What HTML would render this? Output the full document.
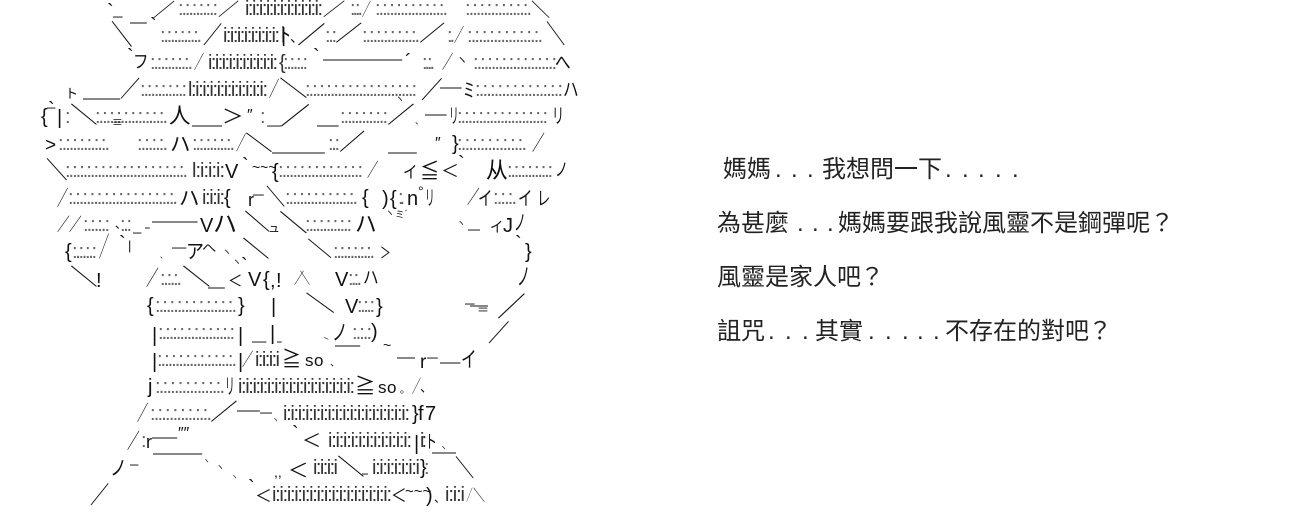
<!DOCTYPE html>
<html><head><meta charset="utf-8">
<style>
html,body{margin:0;padding:0;background:#fff;width:1300px;height:530px;overflow:hidden}
svg{display:block}
text{white-space:pre;fill:#111}
.d,.i{font:20px "Liberation Sans",sans-serif}
text.d{fill:#666}
text.i{fill:#333}
.c{font:24px "Noto Sans CJK JP",sans-serif}
.l{font:20px "Liberation Sans",sans-serif}
.t{font:24px "Noto Sans CJK TC",sans-serif}
text.t{fill:#222}
</style></head><body>
<svg width="1300" height="530" viewBox="0 0 1300 530" xmlns="http://www.w3.org/2000/svg">
<!-- dots -->
<g transform="translate(0 15)">
<text class="d" x="178" textLength="40">:.:.:.:.:.:</text>
<text class="i" x="245" textLength="78">i:i:i:i:i:i:i:i:i:i:i:</text>
<text class="d" x="350" textLength="13">:.:.</text>
<text class="d" x="375" textLength="73">:.:.:.:.:.:.:.:.:.:.</text>
<text class="d" x="465" textLength="67">:.:.:.:.:.:.:.:.:.</text>
</g>
<g transform="translate(0 42)">
<text class="d" x="160" textLength="42">:.:.:.:.:.:.</text>
<text class="i" x="223" textLength="57">i:i:i:i:i:i:i:i:</text>
<text class="d" x="325" textLength="12">:.:</text>
<text class="d" x="362" textLength="58">:.:.:.:.:.:.:.:.</text>
<text class="d" x="447" textLength="8">:.</text>
<text class="d" x="467" textLength="76">:.:.:.:.:.:.:.:.:.:.</text>
</g>
<g transform="translate(0 69)">
<text class="d" x="150" textLength="43">:.:.:.:.:.:.</text>
<text class="i" x="208" textLength="70">i:i:i:i:i:i:i:i:i:i:</text>
<text class="d" x="283" textLength="25">:.:.:.:</text>
<text class="d" x="422" textLength="13">:.:.</text>
<text class="d" x="473" textLength="84">:.:.:.:.:.:.:.:.:.:.:.:</text>
</g>
<g transform="translate(0 96)">
<text class="d" x="140" textLength="47">:.:.:.:.:.:.:</text>
<text class="i" x="188" textLength="80">l:i:i:i:i:i:i:i:i:i:i:</text>
<text class="d" x="305" textLength="112">:.:.:.:.:.:.:.:.:.:.:.:.:.:.:.:</text>
<text class="d" x="475" textLength="88">:.:.:.:.:.:.:.:.:.:.:.:</text>
</g>
<g transform="translate(0 123)">
<text class="d" x="65" textLength="5">:</text>
<text class="d" x="95" textLength="73">:.:.:.:.:.:.:.:.:.:.</text>
<text class="d" x="260" textLength="3">:</text>
<text class="d" x="340" textLength="48">:.:.:.:.:.:.:</text>
<text class="d" x="457" textLength="91">:.:.:.:.:.:.:.:.:.:.:.:.:</text>
</g>
<g transform="translate(0 150)">
<text class="d" x="58" textLength="52">:.:.:.:.:.:.:.</text>
<text class="d" x="137" textLength="31">:.:.:.:.</text>
<text class="d" x="192" textLength="43">:.:.:.:.:.:.</text>
<text class="d" x="328" textLength="12">:.:</text>
<text class="d" x="457" textLength="70">:.:.:.:.:.:.:.:.:.</text>
</g>
<g transform="translate(0 177)">
<text class="d" x="65" textLength="123">:.:.:.:.:.:.:.:.:.:.:.:.:.:.:.:.:.</text>
<text class="i" x="192" textLength="33">l:i:i:i:</text>
<text class="d" x="278" textLength="85">:.:.:.:.:.:.:.:.:.:.:.:</text>
<text class="d" x="507" textLength="46">:.:.:.:.:.:.:</text>
</g>
<g transform="translate(0 204)">
<text class="d" x="68" textLength="110">:.:.:.:.:.:.:.:.:.:.:.:.:.:.:.</text>
<text class="i" x="202" textLength="23">i:i:i:</text>
<text class="d" x="285" textLength="73">:.:.:.:.:.:.:.:.:.:.</text>
<text class="d" x="398" textLength="7">:.</text>
<text class="d" x="493" textLength="24">:.:.:.</text>
</g>
<g transform="translate(0 231)">
<text class="d" x="83" textLength="27">:.:.:.:</text>
<text class="d" x="120" textLength="12">:.:</text>
<text class="d" x="305" textLength="47">:.:.:.:.:.:.:</text>
</g>
<g transform="translate(0 258)">
<text class="d" x="72" textLength="25">:.:.:.:</text>
<text class="d" x="333" textLength="42">:.:.:.:.:.:.</text>
</g>
<g transform="translate(0 285)">
<text class="d" x="160" textLength="22">:.:.:.</text>
<text class="d" x="348" textLength="14">:.:.</text>
</g>
<g transform="translate(0 312)">
<text class="d" x="155" textLength="82">:.:.:.:.:.:.:.:.:.:.:.</text>
<text class="d" x="357" textLength="18">:.:.:</text>
</g>
<g transform="translate(0 339)">
<text class="d" x="158" textLength="77">:.:.:.:.:.:.:.:.:.:.:</text>
<text class="d" x="352" textLength="20">:.:.:</text>
</g>
<g transform="translate(0 366)">
<text class="d" x="157" textLength="80">:.:.:.:.:.:.:.:.:.:.:.</text>
<text class="i" x="255" textLength="25">i:i:i:i</text>
<text class="l" x="305" style="font-size:17px">s</text>
<text class="l" x="314" style="font-size:17px">o</text>
</g>
<g transform="translate(0 393)">
<text class="d" x="155" textLength="70">:.:.:.:.:.:.:.:.:.</text>
<text class="i" x="238" textLength="117">i:i:i:i:i:i:i:i:i:i:i:i:i:i:i:i:</text>
<text class="l" x="378" style="font-size:17px">s</text>
<text class="l" x="387" style="font-size:17px">o</text>
</g>
<g transform="translate(0 420)">
<text class="d" x="150" textLength="62">:.:.:.:.:.:.:.:.</text>
<text class="i" x="283" textLength="127">i:i:i:i:i:i:i:i:i:i:i:i:i:i:i:i:i:</text>
<text class="l" x="418">f</text><text class="l" x="425">7</text>
</g>
<g transform="translate(0 447)">
<text class="d" x="141" textLength="4">:</text>
<text class="i" x="328" textLength="84">i:i:i:i:i:i:i:i:i:i:i:</text>
<text class="i" x="420" textLength="7">i:</text>
</g>
<g transform="translate(0 474)">
<text class="i" x="313" textLength="25">i:i:i:i</text>
<text class="i" x="372" textLength="48">i:i:i:i:i:i:i</text>
<text class="d" x="424" textLength="4">:</text>
</g>
<g transform="translate(0 501)">
<text class="i" x="272" textLength="120">i:i:i:i:i:i:i:i:i:i:i:i:i:i:i:i:</text>
<text class="i" x="445" textLength="20">i:i:i</text>
</g>
<!-- forward strokes -->
<g class="c">
<text class="c" transform="translate(152.6 16.4) scale(.95 .78)">／</text>
<text class="c" transform="translate(217.8 15.5) scale(.9 .74)">／</text>
<text class="c" transform="translate(322.6 15.5) scale(.95 .74)">／</text>
<text class="c" transform="translate(362 15.5) scale(.37 .74)">／</text>
<text class="c" transform="translate(203 43) scale(.8 1)">／</text>
<text class="c" transform="translate(297 43) scale(1.2 1)">／</text>
<text class="c" transform="translate(335 41) scale(1.15 .9)">／</text>
<text class="c" transform="translate(419 41) scale(1.1 .9)">／</text>
<text class="c" transform="translate(454 41.4) scale(.42 .78)">／</text>
<text class="c" transform="translate(194 68.4) scale(.42 .78)">／</text>
<text class="c" transform="translate(442 68.4) scale(.47 .78)">／</text>
<text class="c" transform="translate(120 97) scale(.84 .95)">／</text>
<text class="c" transform="translate(269 96) scale(.42 .87)">／</text>
<text class="c" transform="translate(421 98) scale(.9 1)">／</text>
<text class="c" transform="translate(280 124) scale(1.26 1)">／</text>
<text class="c" transform="translate(387 123) scale(1.16 .95)">／</text>
<text class="c" transform="translate(236 150) scale(.42 .83)">／</text>
<text class="c" transform="translate(339 150) scale(1.1 .95)">／</text>
<text class="c" transform="translate(532 150) scale(.53 .87)">／</text>
<text class="c" transform="translate(367 176.5) scale(.47 .78)">／</text>
<text class="c" transform="translate(57 205) scale(.47 .87)">／</text>
<text class="c" transform="translate(467 203.5) scale(.53 .78)">／</text>
<text class="c" transform="translate(57 230.5) scale(.53 .74)">／</text>
<text class="c" transform="translate(69 230.5) scale(.53 .74)">／</text>
<text class="c" transform="translate(99 256) scale(.42 1.13)">／</text>
<text class="c" transform="translate(146 285) scale(.53 .87)">／</text>
<text class="c" transform="translate(497 316) scale(1.2 1.13)">／</text>
<text class="c" transform="translate(488 341) scale(.9 1)">／</text>
<text class="c" transform="translate(137 420) scale(.47 .87)">／</text>
<text class="c" transform="translate(210 420) scale(1.16 .95)">／</text>
<text class="c" transform="translate(127 448) scale(.53 .87)">／</text>
<text class="c" transform="translate(90 503) scale(.8 1)">／</text>
<text class="c" transform="translate(412 392.5) scale(.37 .74)">／</text>
<text class="c" transform="translate(242 365.5) scale(.47 .74)">／</text>
<text class="c" transform="translate(466.3 500.7) scale(.26 .65)">／</text>
<text class="c" transform="translate(294 283.7) scale(.42 .65)">／</text>
<!-- back strokes -->
<text class="c" transform="translate(531 16.4) scale(.8 .78)">＼</text>
<text class="c" transform="translate(111 44.7) scale(.9 1.17)">＼</text>
<text class="c" transform="translate(546 43) scale(.8 1.09)">＼</text>
<text class="c" transform="translate(279 96) scale(1.2 .91)">＼</text>
<text class="c" transform="translate(70 123) scale(1.16 .95)">＼</text>
<text class="c" transform="translate(245 150) scale(1.16 .87)">＼</text>
<text class="c" transform="translate(46 178) scale(.9 1)">＼</text>
<text class="c" transform="translate(266 205) scale(.8 .95)">＼</text>
<text class="c" transform="translate(244 230) scale(1.1 .95)">＼</text>
<text class="c" transform="translate(279 231) scale(1.2 1)">＼</text>
<text class="c" transform="translate(242 257) scale(1.16 .95)">＼</text>
<text class="c" transform="translate(307 256) scale(1.05 .87)">＼</text>
<text class="c" transform="translate(70 285) scale(1.16 .95)">＼</text>
<text class="c" transform="translate(182 285) scale(1.2 .95)">＼</text>
<text class="c" transform="translate(305 311) scale(1.26 .91)">＼</text>
<text class="c" transform="translate(337 475) scale(1.16 .95)">＼</text>
<text class="c" transform="translate(455 476) scale(.8 1)">＼</text>
<text class="c" transform="translate(300 283.7) scale(.42 .65)">＼</text>
<text class="c" transform="translate(473 500.7) scale(.5 .65)">＼</text>
</g>
<!-- horizontal bars -->
<g transform="translate(0 1)">
<text class="c" transform="translate(113 25) scale(.4 1)">─</text>
<text class="c" transform="translate(130 31) scale(.7 1)">─</text>
<text class="c" transform="translate(323 68) scale(3.3 1)">─</text>
<text class="c" transform="translate(83 107) scale(1.55 1)">─</text>
<text class="c" transform="translate(192 134) scale(1.25 1)">─</text>
<text class="c" transform="translate(267 134) scale(.6 1)">─</text>
<text class="c" transform="translate(317 134) scale(.9 1)">─</text>
<text class="c" transform="translate(440 96) scale(.9 1)">─</text>
<text class="c" transform="translate(425 123) scale(.9 1)">─</text>
<text class="c" transform="translate(272 161) scale(2.2 1)">─</text>
<text class="c" transform="translate(388 161) scale(1.2 1)">─</text>
<text class="c" transform="translate(253 203) scale(.45 1)">─</text>
<text class="c" transform="translate(152 230) scale(1.9 1)">─</text>
<text class="c" transform="translate(133 241) scale(.35 1)">─</text>
<text class="c" transform="translate(145 236) scale(.2 1)">─</text>
<text class="c" transform="translate(172 256) scale(.6 1)">─</text>
<text class="c" transform="translate(208 296) scale(.7 1)">─</text>
<text class="c" transform="translate(465 312) scale(.4 1)">─</text>
<text class="c" transform="translate(252 350) scale(.6 1)">─</text>
<text class="c" transform="translate(277 350) scale(.2 1)">─</text>
<text class="c" transform="translate(335 354) scale(1.05 1)">─</text>
<text class="c" transform="translate(397 366) scale(.75 1)">─</text>
<text class="c" transform="translate(427 366) scale(.45 1)">─</text>
<text class="c" transform="translate(440 371) scale(.85 1)">─</text>
<text class="c" transform="translate(237 419) scale(.95 1)">─</text>
<text class="c" transform="translate(260 421) scale(.5 1)">─</text>
<text class="c" transform="translate(152 446) scale(1.05 1)">─</text>
<text class="c" transform="translate(153 462) scale(2.05 1)">─</text>
<text class="c" transform="translate(130 473) scale(.35 1)">─</text>
<text class="c" transform="translate(432 461) scale(1 1)">─</text>
<text class="c" transform="translate(468 238) scale(.5 1)">─</text>
<text class="c" transform="translate(470 314) scale(.75 1)">─</text>
<text class="c" transform="translate(362 482) scale(.25 1)">─</text>
</g>
<!-- misc glyphs -->
<text class="l" x="107" y="18">`</text>
<text class="l" x="150" y="32">`</text>
<text class="c" transform="translate(133 68) scale(.65 .75)">フ</text>
<text class="i" x="279" y="69">{</text>
<text class="l" x="281" y="42">|</text>
<text class="c" transform="translate(278 42) scale(.55 .85)">ト</text>
<text class="l" x="290" y="42" style="font-size:14px">、</text>
<text class="l" x="127" y="63">`</text>
<text class="l" x="313" y="63">`</text>
<text class="l" x="405" y="68">´</text>
<text class="c" transform="translate(456 64) scale(.5 .5)">ヽ</text>
<text class="c" transform="translate(555 69) scale(.65 .8)">へ</text>
<text class="c" transform="translate(65 98) scale(.55 .55)">ト</text>
<text class="c" transform="translate(395 102) scale(.4 .4)">ヽ</text>
<text class="c" transform="translate(463 97) scale(.5 .8)">ミ</text>
<text class="c" transform="translate(563 96) scale(.65 .8)">ハ</text>
<text class="l" x="41" y="123">{</text>
<text class="l" x="48" y="116">`</text>
<text class="c" transform="translate(47 117) scale(.35 1)">─</text>
<text class="l" x="57" y="124">|</text>
<text class="c" transform="translate(112 126) scale(.45 .45)">≡</text>
<text class="c" transform="translate(169 123) scale(.9 .9)">人</text>
<text class="c" transform="translate(222 123) scale(.9 .8)">＞</text>
<text class="l" x="247" y="120" style="font-size:16px">″</text>
<text class="c" transform="translate(415 124) scale(.35 .35)">、</text>
<text class="c" transform="translate(449 123) scale(.4 .85)">リ</text>
<text class="c" transform="translate(552 123) scale(.5 .85)">リ</text>
<text class="l" x="45" y="151" style="font-size:19px">&gt;</text>
<text class="c" transform="translate(170 151) scale(.85 .85)">ハ</text>
<text class="l" x="435" y="148" style="font-size:16px">″</text>
<text class="l" x="452" y="150">}</text>
<text class="l" x="225" y="178" style="font-size:20px">V</text>
<text class="l" x="242" y="172">`</text>
<text class="l" x="252" y="172" style="font-size:14px">~~~</text>
<text class="l" x="272" y="178">{</text>
<text class="c" transform="translate(403 178) scale(.6 .7)">イ</text>
<text class="c" transform="translate(420 178) scale(.8 .85)">≦</text>
<text class="c" transform="translate(441 177) scale(.75 .7)">＜</text>
<text class="l" x="458" y="170">`</text>
<text class="c" transform="translate(486 178) scale(.9 .95)">从</text>
<text class="c" transform="translate(555 176) scale(.55 .75)">ノ</text>
<text class="c" transform="translate(179 205) scale(.85 .85)">ハ</text>
<text class="l" x="224" y="204">{</text>
<text class="l" x="248" y="206" style="font-size:18px">r</text>
<text class="l" x="362" y="204">{</text>
<text class="l" x="382" y="205">)</text>
<text class="l" x="390" y="205">{</text>
<text class="l" x="407" y="205">n</text>
<text class="l" x="418" y="196" style="font-size:14px">°</text>
<text class="c" transform="translate(425 205) scale(.4 .85)">リ</text>
<text class="c" transform="translate(478 205) scale(.6 .8)">イ</text>
<text class="c" transform="translate(518 205) scale(.6 .8)">イ</text>
<text class="c" transform="translate(537 205) scale(.55 .8)">レ</text>
<text class="l" x="200" y="232" style="font-size:20px">V</text>
<text class="c" transform="translate(213 232) scale(1 1)">ハ</text>
<text class="l" x="115" y="228" style="font-size:12px">、</text>
<text class="c" transform="translate(268 232) scale(.5 .5)">ュ</text>
<text class="c" transform="translate(355 232) scale(.9 .95)">ハ</text>
<text class="c" transform="translate(385 216) scale(.4 .4)">ヽ</text>
<text class="c" transform="translate(395 218) scale(.4 .4)">ミ</text>
<text class="c" transform="translate(405 216) scale(.3 .3)">ﾞ</text>
<text class="c" transform="translate(457 226) scale(.35 .35)">ヽ</text>
<text class="c" transform="translate(490 232) scale(.55 .6)">イ</text>
<text class="l" x="503" y="232">J</text>
<text class="c" transform="translate(514 230) scale(.5 .9)">ノ</text>
<text class="l" x="65" y="258">{</text>
<text class="l" x="119" y="250">`</text>
<text class="l" x="128" y="250" style="font-size:13px">|</text>
<text class="c" transform="translate(160 258) scale(.3 .3)">、</text>
<text class="c" transform="translate(186 258) scale(.75 .8)">ア</text>
<text class="c" transform="translate(202 252) scale(.6 .5)">へ</text>
<text class="c" transform="translate(222 255) scale(.4 .4)">ヽ</text>
<text class="c" transform="translate(232 265) scale(.4 .4)">ヽ</text>
<text class="c" transform="translate(380 258) scale(.45 .65)">＞</text>
<text class="l" x="515" y="250">`</text>
<text class="l" x="525" y="258">}</text>
<text class="l" x="96" y="287">!</text>
<text class="c" transform="translate(228 286) scale(.6 .65)">＜</text>
<text class="l" x="241" y="272">`</text>
<text class="l" x="248" y="286" style="font-size:20px">V</text>
<text class="l" x="263" y="286">{</text>
<text class="l" x="270" y="287">,</text>
<text class="l" x="276" y="287">!</text>
<text class="l" x="335" y="286" style="font-size:20px">V</text>
<text class="c" transform="translate(363 284) scale(.65 .75)">ハ</text>
<text class="c" transform="translate(517 285) scale(.55 1)">ノ</text>
<text class="l" x="147" y="312">{</text>
<text class="l" x="238" y="312">}</text>
<text class="l" x="271" y="313">|</text>
<text class="l" x="345" y="313" style="font-size:20px">V</text>
<text class="l" x="376" y="313">}</text>
<text class="c" transform="translate(477 314) scale(.5 .5)">＝</text>
<text class="l" x="152" y="342">|</text>
<text class="l" x="238" y="342">|</text>
<text class="l" x="270" y="340">|</text>
<text class="c" transform="translate(320 340) scale(.5 .2)">ヽ</text>
<text class="c" transform="translate(332 340) scale(.65 .9)">ノ</text>
<text class="l" x="371" y="338">)</text>
<text class="l" x="152" y="368">|</text>
<text class="l" x="238" y="368">|</text>
<text class="c" transform="translate(282 366) scale(.8 .85)">≧</text>
<text class="l" x="330" y="366" style="font-size:10px">、</text>
<text class="l" x="383" y="350" style="font-size:14px">~</text>
<text class="l" x="420" y="368" style="font-size:19px">r</text>
<text class="c" transform="translate(461 367) scale(.65 .9)">イ</text>
<text class="l" x="148" y="393">j</text>
<text class="c" transform="translate(225 394) scale(.4 .9)">リ</text>
<text class="c" transform="translate(355 393) scale(.85 .85)">≧</text>
<text class="l" x="400" y="393" style="font-size:10px">。</text>
<text class="l" x="420" y="392" style="font-size:13px">、</text>
<text class="l" x="412" y="420">}</text>
<text class="c" transform="translate(272 422) scale(.3 .3)">ヽ</text>
<text class="l" x="146" y="448" style="font-size:18px">r</text>
<text class="l" x="178" y="438" style="font-size:16px">″″</text>
<text class="l" x="292" y="440">`</text>
<text class="c" transform="translate(302 447) scale(.8 .75)">＜</text>
<text class="l" x="414" y="450">|</text>
<text class="c" transform="translate(425 448) scale(.5 .75)">ト</text>
<text class="c" transform="translate(440 450) scale(.3 .3)">ヽ</text>
<text class="c" transform="translate(110 475) scale(.7 .85)">ノ</text>
<text class="c" transform="translate(203 463) scale(.3 .3)">ヽ</text>
<text class="c" transform="translate(216 470) scale(.35 .35)">ヽ</text>
<text class="c" transform="translate(231 479) scale(.3 .3)">ヽ</text>
<text class="c" transform="translate(288 477) scale(.85 .8)">＜</text>
<text class="l" x="420" y="474">}</text>
<text class="l" x="274" y="477" style="font-size:14px">,,</text>
<text class="l" x="248" y="494">`</text>
<text class="c" transform="translate(255 502) scale(.7 .7)">＜</text>
<text class="c" transform="translate(391 502) scale(.65 .75)">＜</text>
<text class="l" x="405" y="496" style="font-size:15px">~~~</text>
<text class="l" x="426" y="502">)</text>
<text class="l" x="434" y="502" style="font-size:12px">、</text>
<!-- right text -->
<text class="t" x="723" y="177">媽媽</text>
<text class="t" x="775 791 807" y="177" style="font-family:'Liberation Sans'">...</text>
<text class="t" x="822" y="177">我想問一下</text>
<text class="t" x="945 962 978 995 1012" y="177" style="font-family:'Liberation Sans'">.....</text>
<text class="t" x="717" y="231">為甚麼</text>
<text class="t" x="797 812 827" y="231" style="font-family:'Liberation Sans'">...</text>
<text class="t" x="838" y="231">媽媽要跟我說風靈不是鋼彈呢</text>
<text class="t" x="1150" y="231">？</text>
<text class="t" x="717" y="285">風靈是家人吧</text>
<text class="t" x="860" y="285">？</text>
<text class="t" x="717" y="339">詛咒</text>
<text class="t" x="768 785 802" y="339" style="font-family:'Liberation Sans'">...</text>
<text class="t" x="815" y="339">其實</text>
<text class="t" x="868 885 902 917 933" y="339" style="font-family:'Liberation Sans'">.....</text>
<text class="t" x="945" y="339">不存在的對吧</text>
<text class="t" x="1088" y="339">？</text>
</svg>
</body></html>
